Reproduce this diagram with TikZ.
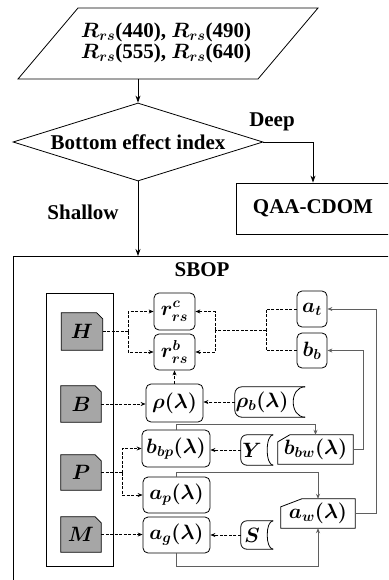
\documentclass[tikz,border=0pt]{standalone}
\usepackage{fontspec}
\setmainfont{Liberation Serif}
\usepackage{bm}
\usetikzlibrary{shapes.geometric,arrows.meta,backgrounds}
\definecolor{gfill}{RGB}{166,166,166}
\definecolor{gline}{RGB}{95,95,95}
\begin{document}
\begin{tikzpicture}[x=1pt,y=-1pt,
  ln/.style={line width=0.8pt},
  arr/.style={-{Stealth[length=7pt,width=5pt]}},
  ttxt/.style={font=\fontsize{21}{24}\selectfont\bfseries},
  mtxt/.style={font=\fontsize{20}{24}\selectfont\boldmath},
  rbox/.style={draw, ln, rounded corners=5pt, inner sep=0pt, mtxt},
  gnode/.style={inner sep=0pt, mtxt},
  pnode/.style={inner sep=0pt, mtxt},
  dsh/.style={line width=0.7pt, dash pattern=on 3pt off 1.5pt},
  darr/.style={dsh, -{Stealth[length=5pt,width=4pt]}},
  gln/.style={line width=0.7pt, draw=gline},
  garr/.style={gln, -{Stealth[length=5pt,width=4pt]}}]
\useasboundingbox (0,0) rectangle (388,580);
\clip (0,0) rectangle (388,580);

% input parallelogram
\coordinate (p1) at (78,8);
\coordinate (p2) at (318,8);
\coordinate (p3) at (258,79);
\coordinate (p4) at (18,79);
\draw[ln] (p1) -- (p2) -- (p3) -- (p4) -- cycle;
\node[align=center, inner sep=0pt, font=\fontsize{21}{21}\selectfont\bfseries] (inp) at (166,43)
  {\fontsize{21}{21}\selectfont\bfseries$\bm{R_{rs}}$(440), $\bm{R_{rs}}$(490)\\\fontsize{21}{21}\selectfont\bfseries$\bm{R_{rs}}$(555), $\bm{R_{rs}}$(640)};
\coordinate (inS) at (138,79);

% decision
\node[diamond, aspect=3.2, draw, ln, minimum width=250pt, minimum height=78pt, inner sep=0pt, ttxt] (dia) at (138,142) {Bottom effect index};
\draw[ln,arr] (inS) -- (dia.north);
\node[ttxt] (deep) at (272,122) {Deep};
\node[ttxt] (shallow) at (83,212) {Shallow};
\node[draw, ln, ttxt, minimum width=154pt, minimum height=51pt] (qaa) at (313,208.5) {QAA-CDOM};
\draw[ln,arr] (dia.east) -| (qaa.north);

% SBOP frame
\node[draw, ln, minimum width=420pt, minimum height=400pt, anchor=north west] (sbop) at (13,256) {};
\node[ttxt] (sboplbl) at (202,270) {SBOP};
\draw[ln,arr] (dia.south) -- (dia.south |- sbop.north);

% group of inputs
\node[draw, line width=0.7pt, minimum width=67pt, minimum height=273pt] (grp) at (79.5,429.5) {};
\node[gnode, minimum width=41pt, minimum height=37pt] (H) at (82,331.5) {$\bm{H}$};
\node[gnode, minimum width=40pt, minimum height=36pt] (B) at (81,404) {$\bm{B}$};
\node[gnode, minimum width=40pt, minimum height=35pt] (P) at (81,472.5) {$\bm{P}$};
\node[gnode, minimum width=40pt, minimum height=35pt] (M) at (81,534.5) {$\bm{M}$};

% rounded boxes
\node[rbox, minimum width=41pt, minimum height=37pt] (rc) at (174.5,311.5) {$\bm{r^{c}_{rs}}$};
\node[rbox, minimum width=41pt, minimum height=36pt] (rb) at (174.5,352) {$\bm{r^{b}_{rs}}$};
\node[rbox, minimum width=57pt, minimum height=38pt] (rho) at (174.5,403) {$\bm{\rho(\lambda)}$};
\node[rbox, minimum width=68pt, minimum height=37pt] (bbp) at (176,448.5) {$\bm{b_{bp}(\lambda)}$};
\node[rbox, minimum width=67pt, minimum height=36pt] (ap) at (176.5,495) {$\bm{a_{p}(\lambda)}$};
\node[rbox, minimum width=67pt, minimum height=36pt] (ag) at (176.5,535) {$\bm{a_{g}(\lambda)}$};
\node[rbox, minimum width=30pt, minimum height=36pt] (at) at (312,309) {$\bm{a_{t}}$};
\node[rbox, minimum width=30pt, minimum height=35pt] (bb) at (312,350.5) {$\bm{b_{b}}$};

% stored data nodes
\node[pnode, minimum width=54pt, minimum height=30pt] (rhob) at (262,402) {$\bm{\rho_{b}(\lambda)}$};
\node[pnode, minimum width=22pt, minimum height=30pt] (Y) at (252,450) {$\bm{Y}$};
\node[pnode, minimum width=22pt, minimum height=28pt] (S) at (252,535) {$\bm{S}$};

% chamfered nodes
\node[pnode, minimum width=75pt, minimum height=29pt] (bbw) at (315.5,449.5) {$\bm{b_{bw}(\lambda)}$};
\node[pnode, minimum width=74pt, minimum height=29pt] (aw) at (318,513.5) {$\bm{a_{w}(\lambda)}$};

\begin{scope}[on background layer]
  \foreach \n in {H,B,P,M}
    \draw[ln, fill=gfill] (\n.south west) -- (\n.north west) -- ([xshift=-6pt]\n.north east)
      -- ([yshift=-6pt]\n.north east) -- (\n.south east) -- cycle;
  \draw[ln] (bbw.south west) -- ([yshift=-7pt]bbw.north west) -- ([xshift=12pt]bbw.north west)
    -- (bbw.north east) -- (bbw.south east) -- cycle;
  \draw[ln] (aw.south west) -- ([yshift=-8pt]aw.north west) -- ([xshift=21pt]aw.north west)
    -- (aw.north east) -- (aw.south east) -- cycle;
  \draw[ln, rounded corners=7pt] ([xshift=16pt]rhob.north east) -- (rhob.north west)
    -- (rhob.south west) -- ([xshift=16pt]rhob.south east);
  \draw[ln] ([xshift=16pt]rhob.north east) .. controls (rhob.north east) and (rhob.south east) .. ([xshift=16pt]rhob.south east);
  \foreach \n in {Y,S} {
    \draw[ln, rounded corners=6pt] ([xshift=10pt]\n.north east) -- (\n.north west)
      -- (\n.south west) -- ([xshift=10pt]\n.south east);
    \draw[ln] ([xshift=10pt]\n.north east) .. controls ([xshift=2pt]\n.north east) and ([xshift=2pt]\n.south east) .. ([xshift=10pt]\n.south east);
  }
\end{scope}

% dashed connectors
\coordinate (hj) at (128,331.5);
\draw[dsh] (H.east) -- (hj);
\draw[darr] (hj) |- (rc.west);
\draw[darr] (hj) |- (rb.west);
\coordinate (tj) at (266,330);
\coordinate (rj) at (215,330);
\draw[dsh] (at.west) -| (tj);
\draw[dsh] (bb.west) -| (tj);
\draw[dsh] (tj) -- (rj);
\draw[darr] (rj) |- (rc.east);
\draw[darr] (rj) |- (rb.east);
\draw[darr] (rho.north) -- (rb.south);
\draw[darr] (B.east) -- (B.east -| rho.west);
\draw[darr] (rhob.west) -- (rhob.west -| rho.east);
\coordinate (pj) at (122,472.5);
\draw[dsh] (P.east) -- (pj);
\draw[darr] (pj) |- (bbp.west);
\draw[darr] (pj) |- (ap.west);
\draw[darr] (Y.west) -- (Y.west -| bbp.east);
\draw[darr] (S.west) -- (S.west -| ag.east);
\draw[darr] (M.east) -- (M.east -| ag.west);

% solid gray connectors
\draw[garr] (bbp.north) |- ([yshift=10pt]bbw.north) -- (bbw.north);
\draw[garr] (ap.north) |- ([yshift=26pt]aw.north) -- (aw.north);
\draw[garr] (ag.south) |- ([yshift=-38pt]aw.south) -- (aw.south);
\draw[garr] (bbw.east) -- ++(10,0) |- (bb.east);
\draw[garr] (aw.east) -- ++(21,0) |- (at.east);
\end{tikzpicture}
\end{document}
